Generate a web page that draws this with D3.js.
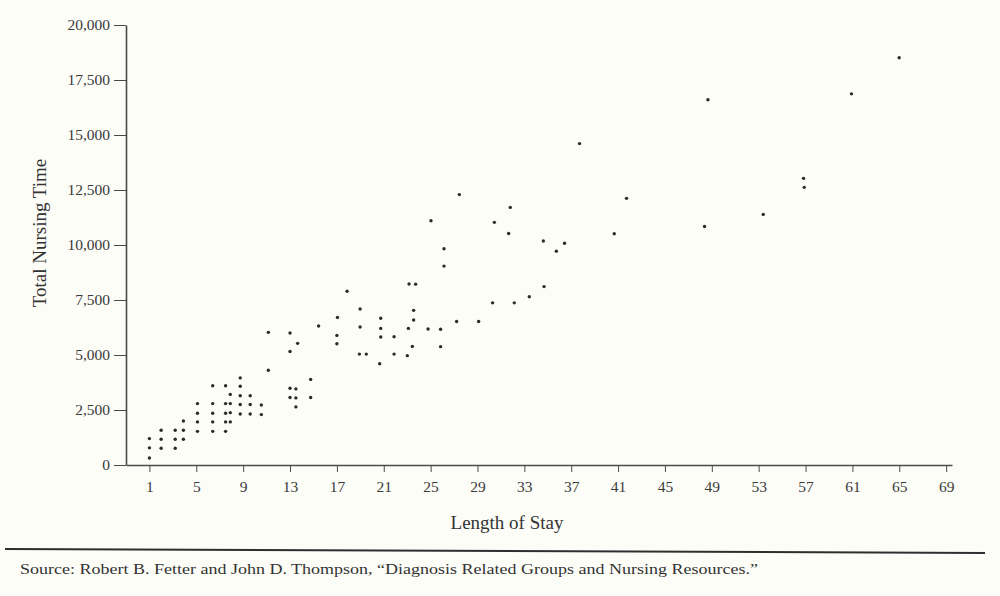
<!DOCTYPE html>
<html>
<head>
<meta charset="utf-8">
<script src="https://cdn.jsdelivr.net/npm/d3@7"></script>
<style>
  body { margin: 0; background: #fdfdf8; }
  svg { display: block; }
  .tick text { font-family: "Liberation Serif", "DejaVu Serif", serif; fill: #3a3a3a; }
  .tick line, .domain { stroke: #4a4a4a; }
</style>
</head>
<body>
<svg id="chart"></svg>
<script>
// length of stay (days) for each DRG point
const lengthOfStay = [
  1, 1, 1,
  2, 2, 2,
  3.2, 3.2, 3.2,
  3.9, 3.9, 3.9,
  5.1, 5.1, 5.1, 5.1,
  6.4, 6.4, 6.4, 6.4, 6.4,
  7.5, 7.5, 7.5, 7.5, 7.5,
  7.9, 7.9, 7.9, 7.9,
  8.75, 8.75, 8.75, 8.75, 8.75,
  9.6, 9.6, 9.6,
  10.55, 10.55,
  11.15, 11.15,
  13, 13, 13, 13,
  13.65,
  13.5, 13.5, 13.5,
  14.76, 14.76,
  15.44,
  17.05, 17, 17,
  17.87,
  18.98, 18.98, 18.92,
  19.51,
  20.65,
  20.74, 20.74, 20.74,
  21.88, 21.88,
  23.01,
  23.16, 23.72,
  23.55, 23.55,
  23.1,
  23.44,
  24.78,
  25.85, 25.85,
  25.03,
  26.14, 26.14,
  27.45,
  27.22,
  29.1,
  30.29,
  30.44,
  31.8, 31.66,
  32.14,
  33.42,
  34.68, 34.62,
  35.73,
  36.43,
  37.71,
  40.67,
  41.72,
  48.38,
  48.67,
  53.39,
  56.83, 56.89,
  60.92,
  64.99,
];
// total nursing time, same order
const nursingTime = [
  1200, 780, 320,
  1580, 1170, 760,
  1580, 1170, 760,
  2000, 1580, 1170,
  2790, 2350, 1960, 1530,
  3600, 2790, 2350, 1960, 1530,
  3600, 2790, 2350, 1960, 1530,
  3210, 2790, 2380, 1960,
  3960, 3580, 3150, 2750, 2320,
  3150, 2750, 2320,
  2730, 2290,
  6030, 4310,
  6000, 5160, 3490, 3070,
  5530,
  3460, 3050, 2640,
  3890, 3070,
  6320,
  6710, 5890, 5510,
  7900,
  7090, 6270, 5040,
  5040,
  4600,
  6670, 6210, 5820,
  5830, 5040,
  4970,
  8230, 8220,
  7030, 6590,
  6210,
  5390,
  6180,
  6170, 5380,
  11100,
  9830, 9040,
  12290,
  6520,
  6520,
  7370,
  11030,
  11710, 10520,
  7370,
  7650,
  8110, 10180,
  9720,
  10080,
  14610,
  10510,
  12120,
  10840,
  16600,
  11390,
  13030, 12620,
  16870,
  18510,
];
const xTicks = [1, 5, 9, 13, 17, 21, 25, 29, 33, 37, 41, 45, 49, 53, 57, 61, 65, 69];
const yTicks = [0, 2500, 5000, 7500, 10000, 12500, 15000, 17500, 20000];

const xTitle = "Length of Stay";
const yTitle = "Total Nursing Time";
const sourceNote =
  "Source: Robert B. Fetter and John D. Thompson, \u201cDiagnosis Related Groups and Nursing Resources.\u201d";

// dimensions
const width = 1000;
const height = 596;
const axisLeftX = 126;
const axisRightX = 952;
const axisTopY = 25;
const axisBottomY = 465;

const svg = d3.select("#chart").attr("width", width).attr("height", height);

svg.append("rect")
  .attr("width", width)
  .attr("height", height)
  .attr("fill", "#fdfdf8");

const xScale = d3.scaleLinear().domain([-1, 69.5]).range([axisLeftX, axisRightX]);
const yScale = d3.scaleLinear().domain([0, 20000]).range([axisBottomY, axisTopY]);

const drawAxes = () => {
  const xAxis = d3.axisBottom(xScale)
    .tickValues(xTicks)
    .tickSize(7)
    .tickSizeOuter(0)
    .tickPadding(9)
    .tickFormat(d3.format("d"));
  const gx = svg.append("g")
    .attr("id", "x-axis")
    .attr("transform", "translate(0," + axisBottomY + ")")
    .call(xAxis);
  gx.selectAll("text").style("font-size", "15.5px");
  gx.select(".domain").attr("stroke-width", 1.6);

  const yAxis = d3.axisLeft(yScale)
    .tickValues(yTicks)
    .tickSize(12)
    .tickSizeOuter(0)
    .tickPadding(4)
    .tickFormat(d3.format(","));
  const gy = svg.append("g")
    .attr("id", "y-axis")
    .attr("transform", "translate(" + axisLeftX + ",0)")
    .call(yAxis);
  gy.selectAll("text").style("font-size", "15.5px");
  gy.select(".domain").attr("stroke-width", 1.6);
};

const drawDots = () => {
  const points = lengthOfStay.map((los, i) => ({ los: los, time: nursingTime[i] }));
  svg.append("g")
    .selectAll("circle")
    .data(points)
    .enter()
    .append("circle")
    .attr("cx", (d) => xScale(d.los))
    .attr("cy", (d) => yScale(d.time))
    .attr("r", 1.7)
    .attr("fill", "#2b2b2b");
};

const drawLabels = () => {
  svg.append("text")
    .attr("x", 507)
    .attr("y", 529)
    .attr("text-anchor", "middle")
    .style("font-family", "'Liberation Serif', serif")
    .style("font-size", "19px")
    .attr("fill", "#333")
    .text(xTitle);

  svg.append("text")
    .attr("transform", "translate(46,233) rotate(-90)")
    .attr("text-anchor", "middle")
    .style("font-family", "'Liberation Serif', serif")
    .style("font-size", "19px")
    .attr("fill", "#333")
    .text(yTitle);

  svg.append("line")
    .attr("x1", 5)
    .attr("y1", 549)
    .attr("x2", 985)
    .attr("y2", 553)
    .attr("stroke", "#2e2e2e")
    .attr("stroke-width", 2);

  svg.append("text")
    .attr("x", 20)
    .attr("y", 574)
    .attr("textLength", 738)
    .attr("lengthAdjust", "spacingAndGlyphs")
    .style("font-family", "'Liberation Serif', serif")
    .style("font-size", "14px")
    .attr("fill", "#333")
    .text(sourceNote);
};

drawAxes();
drawDots();
drawLabels();
</script>
</body>
</html>
